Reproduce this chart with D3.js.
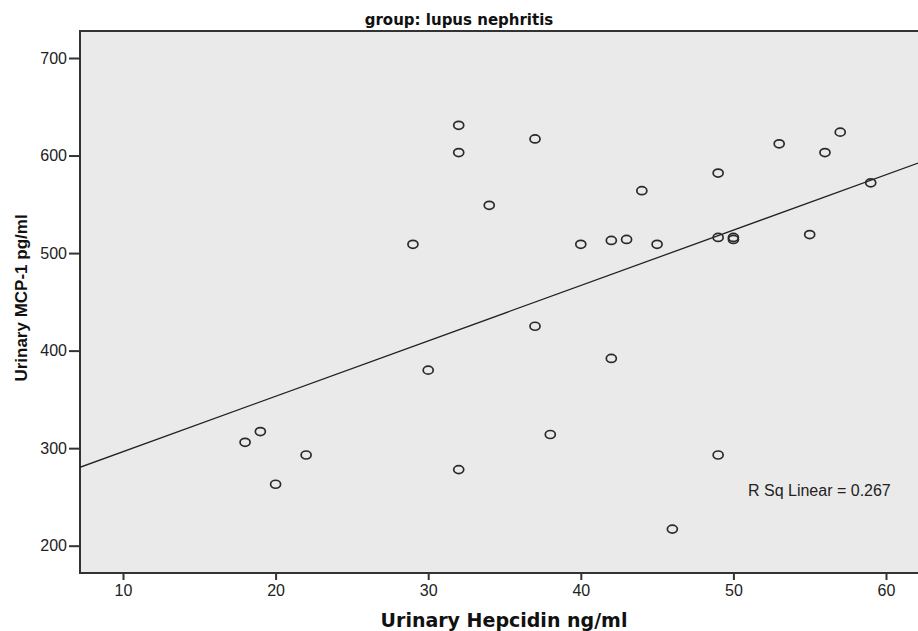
<!DOCTYPE html>
<html>
<head>
<meta charset="utf-8">
<script src="https://cdn.jsdelivr.net/npm/d3@7"></script>
<style>
    body { margin: 0; background: #fff; }
    .tick text { font-family: "Liberation Sans", Arial, sans-serif; font-size: 16px; fill: #222; }
</style>
</head>
<body>
<svg id="chart" width="918" height="631"></svg>
<script>
// values (group: lupus nephritis)
const hepcidin = [18, 19, 20, 22, 29, 30, 32, 32, 32, 34, 37, 37, 38, 40, 42, 42, 43, 44, 45, 46, 49, 49, 49, 50, 50, 53, 55, 56, 57, 59];
const mcp1     = [306, 317, 263, 293, 509, 380, 631, 603, 278, 549, 617, 425, 314, 509, 513, 392, 514, 564, 509, 217, 582, 516, 293, 516, 514, 612, 519, 603, 624, 572];

const xTicks = [10, 20, 30, 40, 50, 60];
const yTicks = [200, 300, 400, 500, 600, 700];
const rSqLabel = "R Sq Linear = 0.267";

var svg = d3.select("#chart");

// plot frame, the right side runs past the window
var plot = {left: 80, top: 31, right: 930, bottom: 573};

let x = d3.scaleLinear().domain([10, 60]).range([123, 886]);
let y = d3.scaleLinear().domain([200, 700]).range([545.7, 58]);

svg.append("defs").append("clipPath").attr("id", "clip")
    .append("rect")
    .attr("x", plot.left).attr("y", plot.top)
    .attr("width", plot.right - plot.left).attr("height", plot.bottom - plot.top);

svg.append("rect")
    .attr("x", plot.left).attr("y", plot.top)
    .attr("width", plot.right - plot.left).attr("height", plot.bottom - plot.top)
    .attr("fill", "#eaeaea")
    .attr("stroke", "#333")
    .attr("stroke-width", 2);

// axes
let yAxis = svg.append("g")
    .attr("transform", "translate(" + plot.left + ",0)")
    .call(d3.axisLeft(y).tickValues(yTicks).tickSize(11).tickPadding(2).tickFormat(d3.format("d")));
yAxis.select(".domain").remove();
yAxis.selectAll(".tick line").attr("stroke", "#333").attr("stroke-width", 2);

let xAxis = svg.append("g")
    .attr("transform", "translate(0," + plot.bottom + ")")
    .call(d3.axisBottom(x).tickValues(xTicks).tickSize(7).tickPadding(5).tickFormat(d3.format("d")));
xAxis.select(".domain").remove();
xAxis.selectAll(".tick line").attr("stroke", "#333").attr("stroke-width", 2);

// least squares fit line
var points = hepcidin.map(function(d, i) { return {x: d, y: mcp1[i]}; });
let mx = d3.mean(points, d => d.x), my = d3.mean(points, d => d.y);
let sxy = d3.sum(points, d => (d.x - mx) * (d.y - my));
let sxx = d3.sum(points, d => (d.x - mx) * (d.x - mx));
let slope = sxy / sxx, intercept = my - slope * mx;
let xEnds = [x.invert(plot.left), x.invert(plot.right)];

svg.append("line")
    .attr("clip-path", "url(#clip)")
    .attr("x1", x(xEnds[0])).attr("y1", y(intercept + slope * xEnds[0]))
    .attr("x2", x(xEnds[1])).attr("y2", y(intercept + slope * xEnds[1]))
    .attr("stroke", "#222")
    .attr("stroke-width", 1.3);

// markers
svg.selectAll(".dot")
    .data(points)
    .enter().append("ellipse")
    .attr("class", "dot")
    .attr("cx", d => x(d.x))
    .attr("cy", d => y(d.y))
    .attr("rx", 5)
    .attr("ry", 4)
    .attr("fill", "none")
    .attr("stroke", "#2a2a2a")
    .attr("stroke-width", 1.7);

svg.append("text")
    .attr("x", 748).attr("y", 496)
    .style("font-family", "'Liberation Sans', Arial, sans-serif")
    .style("font-size", "16px")
    .attr("fill", "#222")
    .text(rSqLabel);

// titles
svg.append("text")
    .attr("x", 459).attr("y", 25)
    .attr("text-anchor", "middle")
    .style("font-family", "'DejaVu Sans', sans-serif")
    .style("font-weight", "bold")
    .style("font-size", "15px")
    .attr("fill", "#111")
    .text("group: lupus nephritis");

svg.append("text")
    .attr("x", 504).attr("y", 627)
    .attr("text-anchor", "middle")
    .style("font-family", "'DejaVu Sans', sans-serif")
    .style("font-weight", "bold")
    .style("font-size", "19px")
    .attr("fill", "#111")
    .text("Urinary Hepcidin ng/ml");

svg.append("text")
    .attr("transform", "translate(27,298) rotate(-90)")
    .attr("text-anchor", "middle")
    .style("font-family", "'Liberation Sans', Arial, sans-serif")
    .style("font-weight", "bold")
    .style("font-size", "17px")
    .attr("fill", "#111")
    .text("Urinary MCP-1 pg/ml");
</script>
</body>
</html>
